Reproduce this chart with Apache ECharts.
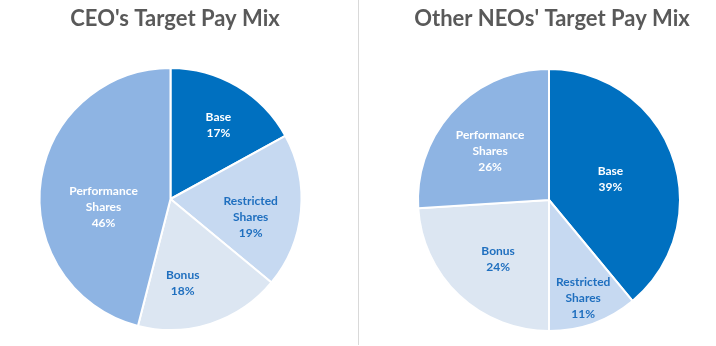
<!DOCTYPE html>
<html>
<head>
<meta charset="utf-8">
<script src="https://cdn.jsdelivr.net/npm/echarts@6/dist/echarts.min.js"></script>
<style>
  html, body { margin: 0; padding: 0; background: #fff; }
  #chart { width: 716px; height: 346px; }
</style>
</head>
<body>
<div id="chart"></div>
<script>
// Pay components, in slice order clockwise from 12 o'clock
const components = ['Base', 'Restricted\nShares', 'Bonus', 'Performance\nShares'];
// Target pay mix, percent of total
const ceoMix = [17, 19, 18, 46];
const neoMix = [39, 11, 24, 26];

const titles = ["CEO's Target Pay Mix", "Other NEOs' Target Pay Mix"];

// Slice fills and label colours per component
const sliceColors = ['#0070C0', '#C6D9F1', '#DCE6F2', '#8EB4E3'];
const labelColors = ['#FFFFFF', '#1F6FBF', '#1F6FBF', '#FFFFFF'];

// Nudges for the in-slice labels (px), per component
const ceoLabelShift = [[13, -15], [12, 12], [-9, 19], [1, 17]];
const neoLabelShift = [[-3, 2], [11, 34], [-4, 9], [-9, -2]];

const FONT = 'Lato, "Open Sans", sans-serif';

function pieData(values) {
  return components.map((name, i) => ({
    name: name,
    value: values[i],
    itemStyle: { color: sliceColors[i] },
    label: { color: labelColors[i] }
  }));
}

function pieSeries(values, center, shift) {
  return {
    type: 'pie',
    center: center,
    radius: 131,
    startAngle: 90,
    clockwise: true,
    silent: true,
    animation: false,
    data: pieData(values),
    itemStyle: { borderColor: '#FFFFFF', borderWidth: 2 },
    label: {
      show: true,
      position: 'inside',
      formatter: '{b}\n{c}%',
      fontFamily: FONT,
      fontWeight: 'bold',
      fontSize: 12,
      lineHeight: 16,
      align: 'center'
    },
    labelLine: { show: false },
    labelLayout: function (p) {
      const s = shift[p.dataIndex];
      return { dx: s[0], dy: s[1] };
    }
  };
}

const chart = echarts.init(document.getElementById('chart'), null, { renderer: 'canvas' });
chart.setOption({
  backgroundColor: '#FFFFFF',
  animation: false,
  title: [
    {
      text: titles[0], left: 170, top: 3, textAlign: 'center',
      textStyle: { fontFamily: FONT, fontWeight: 'bold', fontSize: 22, color: '#595959' }
    },
    {
      text: titles[1], left: 547, top: 3, textAlign: 'center',
      textStyle: { fontFamily: FONT, fontWeight: 'bold', fontSize: 22, color: '#595959' }
    }
  ],
  graphic: [{
    type: 'line',
    shape: { x1: 358.5, y1: 0, x2: 358.5, y2: 345 },
    style: { stroke: '#D9D9D9', lineWidth: 1 },
    silent: true
  }],
  series: [
    pieSeries(ceoMix, [170.5, 199], ceoLabelShift),
    pieSeries(neoMix, [549, 200], neoLabelShift)
  ]
});
</script>
</body>
</html>
